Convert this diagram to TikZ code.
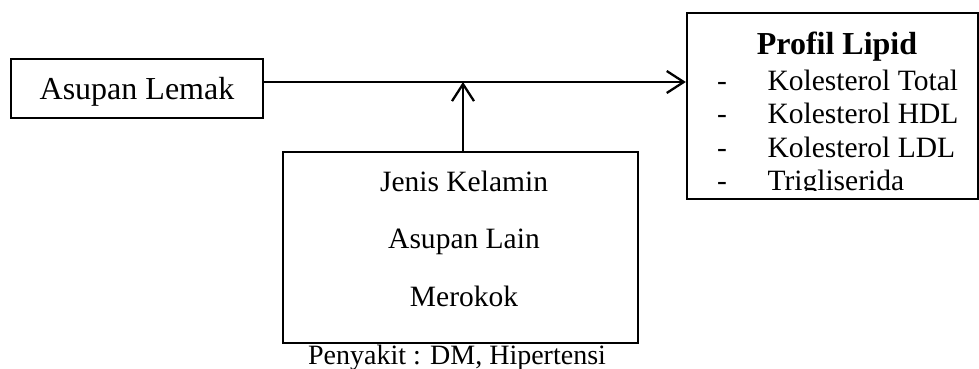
\documentclass[tikz,border=0pt]{standalone}
\usepackage{fontspec}
\setmainfont{Liberation Serif}
\usetikzlibrary{arrows.meta}
\begin{document}
\begin{tikzpicture}[x=1pt,y=-1pt,
  box/.style={draw, line width=2.3pt, inner sep=0pt, rectangle},
  arr/.style={line width=2.3pt, -{Straight Barb[length=17pt,width=22pt,line width=2.3pt]}},
  big/.style={font=\fontsize{32}{36}\selectfont, anchor=base},
  txt/.style={font=\fontsize{29.5}{33}\selectfont, anchor=base},
  small/.style={font=\fontsize{28}{32}\selectfont, anchor=base}]
\useasboundingbox (0,0) rectangle (979,369);
% boxes
\node[box, minimum width=252pt, minimum height=59pt] (al) at (137,88.5) {};
\node[big] (alt) at (137,99) {Asupan Lemak};
\node[box, minimum width=291pt, minimum height=186pt] (pl) at (832.5,106) {};
\node[box, minimum width=355pt, minimum height=191pt] (bot) at (460.5,247.5) {};
% Profil Lipid texts
\node[big, font=\fontsize{32}{36}\selectfont\bfseries] (pt) at (837,55) {Profil Lipid};
\begin{scope}
\clip (687,13) rectangle (978,190);
\foreach \yy/\t/\n in {90/Kolesterol Total/a, 123.5/Kolesterol HDL/b, 157/Kolesterol LDL/c, 190.5/Trigliserida/d}{
  \node[txt] (dash\n) at (722,\yy) {-};
  \node[txt, anchor=base west] (it\n) at (764,\yy) {\t};
}
\end{scope}
% bottom box texts
\node[txt] (jk) at (464,191) {Jenis Kelamin};
\node[txt] (ali) at (464,248) {Asupan Lain};
\node[txt] (mr) at (464,306) {Merokok};
\node[small] (py) at (457,364) {Penyakit : DM, Hipertensi};
% connectors
\coordinate (m) at (463,82);
\draw[arr] ([yshift=6.5pt]al.east) -- ([yshift=24pt]pl.west);
\draw[arr] (bot.north -| m) -- (m);
\end{tikzpicture}
\end{document}
